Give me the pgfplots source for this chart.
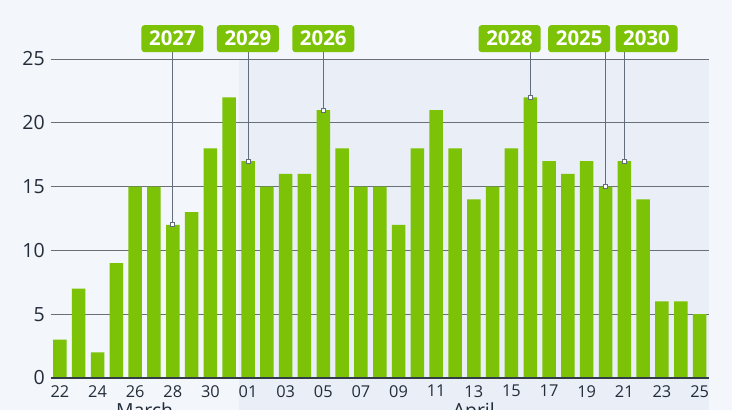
\documentclass[border=0pt]{standalone}
\usepackage{fontspec}
\setmainfont{Open Sans}
\usepackage{pgfplots}
\usepackage{pgfplotstable}
\pgfplotsset{compat=1.18}
\definecolor{bgc}{RGB}{243,246,250}
\definecolor{aprilbg}{RGB}{233,238,247}
\definecolor{barg}{RGB}{124,194,6}
\definecolor{gridc}{RGB}{105,112,120}
\definecolor{axisc}{RGB}{50,60,70}
\definecolor{txt}{RGB}{35,45,58}
\definecolor{annc}{RGB}{100,110,122}
\pgfplotstableread{
x y
0 3
1 7
2 2
3 9
4 15
5 15
6 12
7 13
8 18
9 22
10 17
11 15
12 16
13 16
14 21
15 18
16 15
17 15
18 12
19 18
20 21
21 18
22 14
23 15
24 18
25 22
26 17
27 16
28 17
29 15
30 17
31 14
32 6
33 6
34 5
}\datatable
\begin{document}
\begin{tikzpicture}
\fill[bgc] (0,0) rectangle (732bp,410bp);
\fill[aprilbg] (238.64bp,-20bp) rectangle (709bp,351bp);
\begin{axis}[
  at={(50.5bp,32bp)}, anchor=south west,
  width=658.5bp, height=319bp, scale only axis,
  xmin=-0.5, xmax=34.5, ymin=0, ymax=25,
  clip=false,
  axis line style={draw=none},
  major tick length=0pt,
  ytick={0,5,...,25},
  ymajorgrids, grid style={gridc, line width=0.9bp},
  xtick={0,2,...,34},
  xticklabels={22,24,26,28,30,01,03,05,07,09,11,13,15,17,19,21,23,25},
  /pgf/number format/assume math mode=true,
  yticklabel style={font=\fontsize{19.6}{22}\selectfont, text=txt, inner sep=0pt, anchor=east, xshift=-5.5bp},
  xticklabel style={font=\fontsize{16.4}{19}\selectfont, text=txt, inner sep=0pt, anchor=north, yshift=-7bp},
]
\addplot[ybar, bar width=13.5bp, bar shift=0pt, fill=barg, draw=none] table[x=x,y=y] {\datatable};
\draw[axisc, line width=1.3bp] (axis cs:-0.5,0) -- (axis cs:34.5,0);
\addplot[annc, line width=0.9bp] coordinates {(6,12) (6,25.52)};
\addplot[annc, line width=0.9bp] coordinates {(10,17) (10,25.52)};
\addplot[annc, line width=0.9bp] coordinates {(14,21) (14,25.52)};
\addplot[annc, line width=0.9bp] coordinates {(25,22) (25,25.52)};
\addplot[annc, line width=0.9bp] coordinates {(29,15) (29,25.52)};
\addplot[annc, line width=0.9bp] coordinates {(30,17) (30,25.52)};
\addplot[only marks, mark=square*, mark size=2bp, mark options={fill=white, draw=annc, line width=0.8bp}] coordinates {(6,12) (10,17) (14,21) (25,22) (29,15) (30,17)};
\tikzset{ann/.style={fill=barg, text=white, font=\bfseries\fontsize{20.5}{24}\selectfont, rounded corners=3bp, minimum width=62bp, minimum height=27bp, inner sep=0pt, anchor=south}}
\node[ann] at (axis cs:5.98,25.52) {2027};
\node[ann] at (axis cs:9.99,25.52) {2029};
\node[ann] at (axis cs:14.0,25.52) {2026};
\node[ann] at (axis cs:23.9,25.52) {2028};
\node[ann] at (axis cs:27.6,25.52) {2025};
\node[ann] at (axis cs:31.18,25.52) {2030};
\node[anchor=north, yshift=-25bp, inner sep=0pt, text=txt, font=\fontsize{19.5}{22}\selectfont] at (axis cs:4.5,0) {March};
\node[anchor=north, yshift=-25bp, inner sep=0pt, text=txt, font=\fontsize{19.5}{22}\selectfont] at (axis cs:22,0) {April};
\end{axis}
\pgfresetboundingbox
\useasboundingbox (0,0) rectangle (732bp,410bp);
\end{tikzpicture}
\end{document}
